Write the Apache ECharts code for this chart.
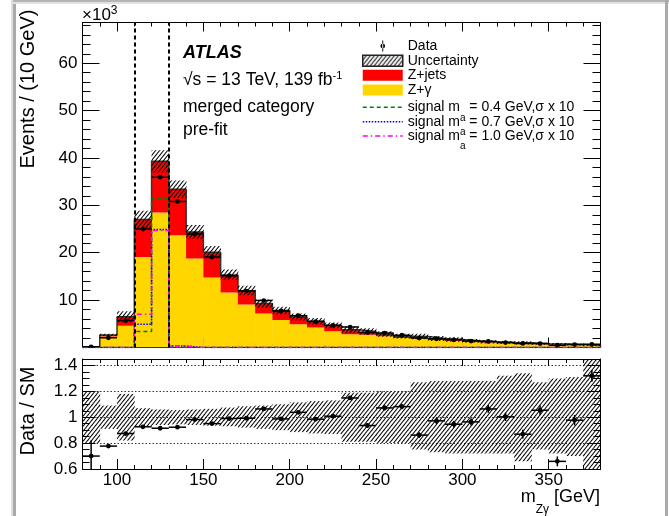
<!DOCTYPE html>
<html><head><meta charset="utf-8">
<script src="https://cdn.jsdelivr.net/npm/echarts@6/dist/echarts.min.js"></script>
<style>html,body{margin:0;padding:0;background:#fff}#c{width:669px;height:516px}</style>
</head><body><div id="c"></div>
<script>
// ---------------- data (in units of 10^3 events) ----------------
const binLow = [80,90,100,110,120,130,140,150,160,170,180,190,200,210,220,230,240,250,260,270,280,290,300,310,320,330,340,350,360,370];
const binWidth = 10;
const zGamma = [0.17,2.3,4.6,19.1,28.5,23.7,18.8,14.8,11.6,9.1,7.2,5.8,4.9,4.2,3.45,2.8,2.7,2.35,2.0,1.95,1.6,1.45,1.2,1.03,0.9,0.85,0.68,0.66,0.55,0.44];
const zJets  = [0.03,0.35,1.9,7.9,10.8,9.7,5.6,5.3,3.7,2.9,2.1,2.0,1.55,1.35,1.2,0.95,0.7,0.5,0.4,0.35,0.3,0.25,0.2,0.17,0.15,0.13,0.1,0.09,0.08,0.06];
const dataCounts = [0.14,2.06,5.68,25.0,35.96,30.83,23.96,19.1,15.15,11.9,9.9,7.7,6.7,5.47,4.69,4.31,3.18,3.05,2.6,1.98,1.85,1.61,1.35,1.28,1.05,0.85,0.82,0.49,0.62,0.66];
const ratio = [0.70,0.777,0.874,0.926,0.915,0.923,0.982,0.951,0.99,0.992,1.064,0.987,1.038,0.985,1.008,1.149,0.936,1.072,1.082,0.862,0.972,0.946,0.964,1.064,1.003,0.869,1.054,0.659,0.977,1.32];
const ratioErr = [0.12,0.015,0.01,0.006,0.005,0.005,0.006,0.007,0.008,0.009,0.01,0.011,0.012,0.013,0.015,0.016,0.017,0.019,0.02,0.022,0.024,0.026,0.028,0.03,0.032,0.034,0.036,0.038,0.04,0.045];
const uncUp   = [1.20,1.09,1.18,1.07,1.06,1.055,1.06,1.065,1.075,1.085,1.09,1.10,1.115,1.125,1.13,1.19,1.19,1.2,1.2,1.27,1.28,1.28,1.28,1.28,1.32,1.34,1.27,1.30,1.31,1.45];
const uncDown = [0.80,0.91,0.82,0.93,0.94,0.945,0.94,0.935,0.93,0.92,0.91,0.90,0.885,0.875,0.87,0.81,0.81,0.8,0.8,0.75,0.73,0.72,0.72,0.72,0.72,0.66,0.75,0.72,0.70,0.6];
const sig04 = [0,0,0,3.4,31.5,0,0,0,0,0,0,0,0,0,0,0,0,0,0,0,0,0,0,0,0,0,0,0,0,0];
const sig07 = [0,0,0,4.9,24.9,0.3,0,0,0,0,0,0,0,0,0,0,0,0,0,0,0,0,0,0,0,0,0,0,0,0];
const sig10 = [0,0,0,7.0,24.7,0.3,0,0,0,0,0,0,0,0,0,0,0,0,0,0,0,0,0,0,0,0,0,0,0,0];
const xMajorTicks = [100,150,200,250,300,350];
const signalWindow = [110,130];
const xMin = 80, xMax = 380;
const mainYMax = 68.6;
const ratioMin = 0.6, ratioMax = 1.45;

// ---------------- helpers ----------------
const FONT = "'Liberation Sans', Arial, Helvetica, sans-serif";
const YELLOW = '#ffd600', RED = '#ff0000';

function makeHatch() {
  const c = document.createElement('canvas');
  const w = 4, h = 5;
  c.width = w; c.height = h;
  const ctx = c.getContext('2d');
  ctx.strokeStyle = '#000'; ctx.lineWidth = 1.05;
  for (let k = -1; k <= 1; k++) {
    ctx.beginPath();
    ctx.moveTo(k * w - 1, h + h / w);
    ctx.lineTo(k * w + w + 1, -h / w);
    ctx.stroke();
  }
  return c;
}
const hatch = {image: makeHatch(), repeat: 'repeat'};

function stepPoints(vals) {
  const pts = [[binLow[0], 0]];
  vals.forEach((v, i) => { pts.push([binLow[i], v]); pts.push([binLow[i] + binWidth, v]); });
  pts.push([binLow[vals.length - 1] + binWidth, 0]);
  return pts;
}
function rectRender(fill) {
  return function (params, api) {
    const a = api.coord([api.value(0), api.value(3)]);
    const b = api.coord([api.value(1), api.value(2)]);
    return {type: 'rect', shape: {x: a[0], y: a[1], width: b[0] - a[0] + 0.4, height: b[1] - a[1]},
            style: {fill: fill, stroke: null}};
  };
}
function pointRender(params, api) {
  const x0 = api.value(0), x1 = api.value(1), v = api.value(2), e = api.value(3);
  const xc = (x0 + x1) / 2;
  const pl = api.coord([x0, v]), pr = api.coord([x1, v]);
  const pt = api.coord([xc, v + e]), pb = api.coord([xc, v - e]);
  const pc = api.coord([xc, v]);
  return {type: 'group', children: [
    {type: 'line', shape: {x1: pl[0], y1: pl[1], x2: pr[0], y2: pr[1]}, style: {stroke: '#000', lineWidth: 1.5}},
    {type: 'line', shape: {x1: pt[0], y1: pt[1], x2: pb[0], y2: pb[1]}, style: {stroke: '#000', lineWidth: 1.5}},
    {type: 'circle', shape: {cx: pc[0], cy: pc[1], r: 2.4}, style: {fill: '#000'}}
  ]};
}

function xAxisPair(grid, pos, minorLen, majorLen, labels) {
  const base = {type: 'value', gridIndex: grid, position: pos, min: xMin, max: xMax, interval: 10, splitLine: {show: false}};
  return [
    Object.assign({}, base, {
      axisLine: {show: true, onZero: false, lineStyle: {color: '#000', width: 1}},
      axisTick: {show: true, inside: true, length: minorLen, lineStyle: {color: '#000', width: 1}},
      axisLabel: {show: false}}),
    Object.assign({}, base, {
      axisLine: {show: false, onZero: false},
      axisTick: {show: true, inside: true, length: majorLen, customValues: xMajorTicks, lineStyle: {color: '#000', width: 1}},
      axisLabel: labels ? {show: true, customValues: xMajorTicks, margin: 3, fontFamily: FONT, fontSize: 17, color: '#000'} : {show: false}})
  ];
}
function yAxisPair(grid, pos, min, max, minorInt, majorInt, minorLen, majorLen, labels, split, showMin) {
  const base = {type: 'value', gridIndex: grid, position: pos, min: min, max: max};
  return [
    Object.assign({}, base, {
      interval: minorInt, splitLine: {show: false},
      axisLine: {show: true, onZero: false, lineStyle: {color: '#000', width: 1}},
      axisTick: {show: true, inside: true, length: minorLen, lineStyle: {color: '#000', width: 1}},
      axisLabel: {show: false}}),
    Object.assign({}, base, {
      interval: majorInt,
      splitLine: split ? {show: true, lineStyle: {color: '#333', width: 1, type: [1.5, 2]}} : {show: false},
      axisLine: {show: false, onZero: false},
      axisTick: {show: true, inside: true, length: majorLen, lineStyle: {color: '#000', width: 1}},
      axisLabel: labels ? {show: true, margin: 5, fontFamily: FONT, fontSize: 17, color: '#000',
        showMinLabel: showMin, showMaxLabel: false, formatter: v => String(+(+v).toFixed(2))} : {show: false}})
  ];
}

const totals = zGamma.map((v, i) => v + zJets[i]);
const legendCommon = {orient: 'vertical', left: 362, padding: 0, itemWidth: 40, itemHeight: 11, selectedMode: false};

const option = {
  animation: false,
  backgroundColor: '#fff',
  grid: [
    {left: 82.5, right: 68.5, top: 22.5, height: 325, outerBoundsMode: 'none'},
    {left: 82.5, right: 68.5, top: 359, height: 110, outerBoundsMode: 'none'}
  ],
  xAxis: [].concat(
    xAxisPair(0, 'bottom', 4, 10, false),
    xAxisPair(0, 'top', 4, 9, false),
    xAxisPair(1, 'bottom', 4, 10, true),
    xAxisPair(1, 'top', 4, 7, false)
  ),
  yAxis: [].concat(
    yAxisPair(0, 'left', 0, mainYMax, 2, 10, 8, 17, true, false, false),
    yAxisPair(0, 'right', 0, mainYMax, 2, 10, 8, 17, false, false, false),
    yAxisPair(1, 'left', ratioMin, ratioMax, 0.05, 0.2, 7, 13, true, true, true),
    yAxisPair(1, 'right', ratioMin, ratioMax, 0.05, 0.2, 7, 13, false, false, true)
  ),
  legend: [
    Object.assign({}, legendCommon, {
      top: 34.5, itemGap: -8.33,
      textStyle: {fontFamily: FONT, fontSize: 14, color: '#000', lineHeight: 23},
      data: [
        {name: 'Data', icon: 'path://M2.4,0L3.6,0L3.6,14L2.4,14Z M0,7A3,3,0,1,0,6,7A3,3,0,1,0,0,7Z', itemStyle: {color: '#000'}},
        {name: 'Uncertainty', icon: 'rect', itemStyle: {color: hatch, borderColor: '#222', borderWidth: 1.5}},
        {name: 'Z+jets', icon: 'rect', itemStyle: {color: RED}},
        {name: 'Z+γ', icon: 'rect', itemStyle: {color: YELLOW}}
      ]}),
    Object.assign({}, legendCommon, {
      top: 95.8, itemGap: -12.6,
      textStyle: {fontFamily: FONT, fontSize: 14, color: '#000', lineHeight: 23,
        rich: {sub: {fontFamily: FONT, fontSize: 10, color: '#000', lineHeight: 6, padding: [17, 0, 0, 0], verticalAlign: 'top'}}},
      formatter: name => name.replace('m_a', 'm{sub|a}'),
      data: [
        {name: 'signal m_a = 0.4 GeV,σ x 10', itemStyle: {opacity: 0}, lineStyle: {color: '#008000', width: 1.5, type: [4, 3]}},
        {name: 'signal m_a = 0.7 GeV,σ x 10', itemStyle: {opacity: 0}, lineStyle: {color: '#0000ff', width: 1.5, type: [1.5, 1.5]}},
        {name: 'signal m_a = 1.0 GeV,σ x 10', itemStyle: {opacity: 0}, lineStyle: {color: '#ff00ff', width: 1.5, type: [5, 3, 1.5, 3]}}
      ]})
  ],
  series: [
    {name: 'Z+γ', type: 'custom', xAxisIndex: 0, yAxisIndex: 0, z: 1, clip: true, silent: true,
      itemStyle: {color: YELLOW}, encode: {x: [0, 1], y: [2, 3]},
      renderItem: rectRender(YELLOW),
      data: binLow.map((lo, i) => [lo, lo + binWidth, 0, zGamma[i]])},
    {name: 'Z+jets', type: 'custom', xAxisIndex: 0, yAxisIndex: 0, z: 1, clip: true, silent: true,
      itemStyle: {color: RED}, encode: {x: [0, 1], y: [2, 3]},
      renderItem: rectRender(RED),
      data: binLow.map((lo, i) => [lo, lo + binWidth, zGamma[i], zGamma[i] + zJets[i]])},
    {name: 'SM total', type: 'line', xAxisIndex: 0, yAxisIndex: 0, z: 2, silent: true, symbol: 'none',
      lineStyle: {color: '#333', width: 1.5}, data: stepPoints(totals),
      markLine: {silent: true, symbol: ['none', 'none'], label: {show: false},
        lineStyle: {color: '#000', width: 2, type: [4, 3]},
        data: signalWindow.map(v => ({xAxis: v}))}},
    {name: 'Uncertainty', type: 'custom', xAxisIndex: 0, yAxisIndex: 0, z: 3, clip: true, silent: true,
      encode: {x: [0, 1], y: [2, 3]}, renderItem: rectRender(hatch),
      data: binLow.map((lo, i) => [lo, lo + binWidth, totals[i] * uncDown[i], totals[i] * uncUp[i]])},
    {name: 'signal m_a = 0.4 GeV,σ x 10', type: 'line', xAxisIndex: 0, yAxisIndex: 0, z: 4, silent: true, symbol: 'none',
      lineStyle: {color: '#008000', width: 1.5, type: [4, 3]}, data: stepPoints(sig04)},
    {name: 'signal m_a = 0.7 GeV,σ x 10', type: 'line', xAxisIndex: 0, yAxisIndex: 0, z: 4, silent: true, symbol: 'none',
      lineStyle: {color: '#0000ff', width: 1.5, type: [1.5, 1.5]}, data: stepPoints(sig07)},
    {name: 'signal m_a = 1.0 GeV,σ x 10', type: 'line', xAxisIndex: 0, yAxisIndex: 0, z: 4, silent: true, symbol: 'none',
      lineStyle: {color: '#ff00ff', width: 1.5, type: [5, 3, 1.5, 3]}, data: stepPoints(sig10)},
    {name: 'Data', type: 'custom', xAxisIndex: 0, yAxisIndex: 0, z: 6, clip: true, silent: true,
      itemStyle: {color: '#000'}, encode: {x: [0, 1], y: 2}, renderItem: pointRender,
      data: binLow.map((lo, i) => [lo, lo + binWidth, dataCounts[i], 0])},
    {name: 'ratio band', type: 'custom', xAxisIndex: 4, yAxisIndex: 4, z: 3, clip: true, silent: true,
      encode: {x: [0, 1], y: [2, 3]}, renderItem: rectRender(hatch),
      data: binLow.map((lo, i) => [lo, lo + binWidth, uncDown[i], uncUp[i]])},
    {name: 'ratio data', type: 'custom', xAxisIndex: 4, yAxisIndex: 4, z: 6, clip: true, silent: true,
      encode: {x: [0, 1], y: 2}, renderItem: pointRender,
      data: binLow.map((lo, i) => [lo, lo + binWidth, ratio[i], ratioErr[i]])}
  ],
  graphic: [
    {type: 'rect', silent: true, shape: {x: 11, y: 0, width: 2, height: 516}, style: {fill: '#dedede'}},
    {type: 'rect', silent: true, shape: {x: 13, y: 0, width: 3, height: 516}, style: {fill: '#a9a9a9'}},
    {type: 'rect', silent: true, shape: {x: 13, y: 0, width: 656, height: 2}, style: {fill: '#b4b4b4'}},
    {type: 'rect', silent: true, shape: {x: 13, y: 2, width: 656, height: 2}, style: {fill: '#e2e2e2'}},
    {type: 'rect', silent: true, shape: {x: 665, y: 0, width: 3, height: 516}, style: {fill: '#a9a9a9'}},
    {type: 'text', silent: true, x: 82, y: 15, style: {text: '×10{sup|3}', fontFamily: FONT, fontSize: 17, fill: '#000',
      align: 'left', verticalAlign: 'middle', lineHeight: 20,
      rich: {sup: {fontFamily: FONT, fontSize: 12, fill: '#000', lineHeight: 4, verticalAlign: 'top'}}}},
    {type: 'text', silent: true, x: 183, y: 53, style: {text: 'ATLAS', fontFamily: FONT, fontSize: 18, fontWeight: 'bold', fontStyle: 'italic',
      fill: '#000', align: 'left', verticalAlign: 'middle'}},
    {type: 'text', silent: true, x: 183, y: 80, style: {text: '√s = 13 TeV, 139 fb{sup|-1}', fontFamily: FONT, fontSize: 17.5, fill: '#000',
      align: 'left', verticalAlign: 'middle', lineHeight: 20,
      rich: {sup: {fontFamily: FONT, fontSize: 11, fill: '#000', lineHeight: 4, verticalAlign: 'top'}}}},
    {type: 'text', silent: true, x: 183, y: 107, style: {text: 'merged category', fontFamily: FONT, fontSize: 17.5, fill: '#000',
      align: 'left', verticalAlign: 'middle'}},
    {type: 'text', silent: true, x: 183, y: 130, style: {text: 'pre-fit', fontFamily: FONT, fontSize: 17.5, fill: '#000',
      align: 'left', verticalAlign: 'middle'}},
    {type: 'text', silent: true, x: 28, y: 89, rotation: Math.PI / 2, style: {text: 'Events / (10 GeV)', fontFamily: FONT, fontSize: 20,
      fill: '#000', align: 'center', verticalAlign: 'middle'}},
    {type: 'text', silent: true, x: 28, y: 411, rotation: Math.PI / 2, style: {text: 'Data / SM', fontFamily: FONT, fontSize: 20,
      fill: '#000', align: 'center', verticalAlign: 'middle'}},
    {type: 'text', silent: true, x: 600, y: 497, style: {text: '{m|m}{s|Zγ}{m| [GeV]}', fontFamily: FONT, fontSize: 18, fill: '#000',
      align: 'right', verticalAlign: 'middle',
      rich: {m: {fontFamily: FONT, fontSize: 18, fill: '#000', lineHeight: 26},
             s: {fontFamily: FONT, fontSize: 12, fill: '#000', lineHeight: 8, padding: [20, 0, 0, 0], verticalAlign: 'top'}}}}
  ]
};

const chart = echarts.init(document.getElementById('c'), null, {renderer: 'canvas'});
chart.setOption(option);
</script></body></html>
